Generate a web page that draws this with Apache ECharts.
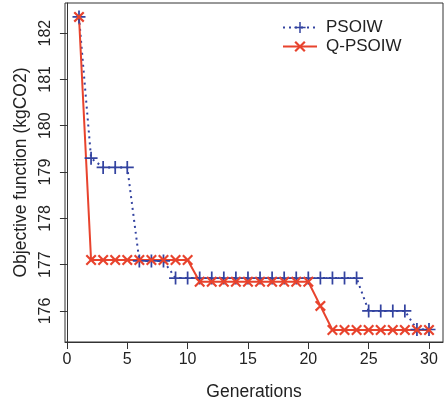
<!DOCTYPE html>
<html>
<head>
<meta charset="utf-8">
<script src="https://cdn.jsdelivr.net/npm/echarts@6/dist/echarts.min.js"></script>
<style>html,body{margin:0;padding:0;background:#fff;}#c{width:448px;height:401px;}</style>
</head>
<body>
<div id="c"></div>
<script>
var generations = [1,2,3,4,5,6,7,8,9,10,11,12,13,14,15,16,17,18,19,20,21,22,23,24,25,26,27,28,29,30];
var psoiw = [182.35,179.3,179.1,179.1,179.1,177.08,177.08,177.08,176.71,176.71,176.71,176.71,176.71,176.71,176.71,176.71,176.71,176.71,176.71,176.71,176.71,176.71,176.71,176.71,176.0,176.0,176.0,176.0,175.6,175.6];
var qpsoiw = [182.35,177.1,177.1,177.1,177.1,177.1,177.1,177.1,177.1,177.1,176.63,176.63,176.63,176.63,176.63,176.63,176.63,176.63,176.63,176.63,176.11,175.59,175.59,175.59,175.59,175.59,175.59,175.59,175.59,175.59];
var xTicks = [0,5,10,15,20,25,30];
var yTicks = [176,177,178,179,180,181,182];

function pairs(xs, ys){ return xs.map(function(x,i){ return [x, ys[i]]; }); }

var plusPath = 'path://M5.2,0 H6.8 V5.2 H12 V6.8 H6.8 V12 H5.2 V6.8 H0 V5.2 H5.2 Z';
var crossPath = 'path://M0,1.4 L1.4,0 L5,3.6 L8.6,0 L10,1.4 L6.4,5 L10,8.6 L8.6,10 L5,6.4 L1.4,10 L0,8.6 L3.6,5 Z';
var blue = '#3343a0', red = '#e8432d';
var font = 'Liberation Sans, Arial, Helvetica, sans-serif';

var chart = echarts.init(document.getElementById('c'));
chart.setOption({
  animation: false,
  backgroundColor: '#fff',
  grid: {left: 65, top: 3, width: 378, height: 339, show: true, borderColor: '#333', borderWidth: 1, containLabel: false, outerBoundsMode: 'none'},
  legend: {
    orient: 'vertical', left: 277, top: 14, itemWidth: 34, itemHeight: 14, itemGap: 2,
    textStyle: {fontFamily: font, fontSize: 17, color: '#222', padding: [0,0,0,4]},
    data: ['PSOIW', 'Q-PSOIW']
  },
  xAxis: {
    type: 'value', min: -0.16, max: 31.16,
    name: 'Generations', nameLocation: 'middle', nameGap: 41,
    nameTextStyle: {fontFamily: font, fontSize: 17.5, color: '#222'},
    axisLine: {show: true, lineStyle: {color: '#333', width: 1}},
    axisTick: {show: true, inside: false, length: 7, lineStyle: {color: '#333'}, customValues: xTicks},
    axisLabel: {fontFamily: font, fontSize: 16, color: '#222', margin: 10, customValues: xTicks},
    splitLine: {show: false}
  },
  yAxis: {
    type: 'value', min: 175.33, max: 182.65,
    name: 'Objective function (kgCO2)', nameLocation: 'middle', nameGap: 35, nameRotate: 90,
    nameTextStyle: {fontFamily: font, fontSize: 17.5, color: '#222'},
    axisLine: {show: true, lineStyle: {color: '#333', width: 1}},
    axisTick: {show: true, inside: false, length: 7, lineStyle: {color: '#333'}, customValues: yTicks},
    axisLabel: {fontFamily: font, fontSize: 16, color: '#222', margin: 11, rotate: 90, customValues: yTicks},
    splitLine: {show: false}
  },
  series: [
    {
      name: 'PSOIW', type: 'line', data: pairs(generations, psoiw),
      symbol: plusPath, symbolSize: 13, showAllSymbol: true,
      lineStyle: {color: blue, width: 2, type: [2, 4]},
      itemStyle: {color: blue}
    },
    {
      name: 'Q-PSOIW', type: 'line', data: pairs(generations, qpsoiw),
      symbol: crossPath, symbolSize: 11, showAllSymbol: true,
      lineStyle: {color: red, width: 2},
      itemStyle: {color: red}
    }
  ]
});
</script>
</body>
</html>
